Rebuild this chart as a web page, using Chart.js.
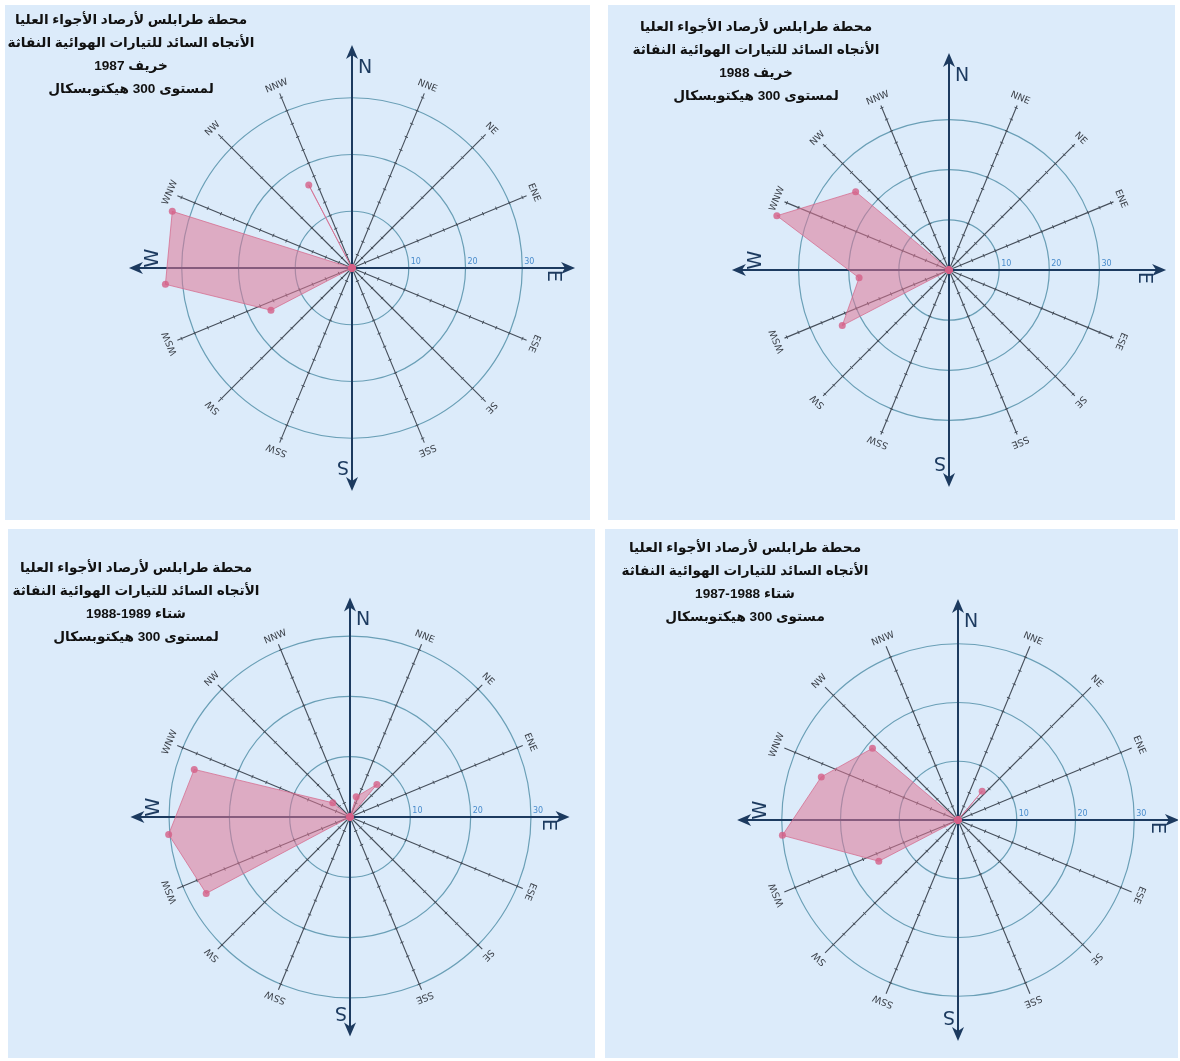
<!DOCTYPE html>
<html>
<head>
<meta charset="utf-8">
<script src="https://cdn.jsdelivr.net/npm/chart.js@4.4.1/dist/chart.umd.min.js"></script>
<style>
  html, body { margin: 0; padding: 0; }
  body { width: 1180px; height: 1061px; background: #ffffff; position: relative; overflow: hidden; }
  .panel { position: absolute; background: #dcebfa; }
  .panel canvas { position: absolute; left: 0; top: 0; }
  .title {
    position: absolute; direction: rtl; text-align: center; white-space: nowrap;
    font-family: "Liberation Sans", "DejaVu Sans", sans-serif; font-weight: bold;
    font-size: 13.6px; line-height: 23px; color: #111;
    transform: translateX(-50%);
  }
</style>
</head>
<body>
<script>
// Wind directions, clockwise from north
const directions = ['N', 'NNE', 'NE', 'ENE', 'E', 'ESE', 'SE', 'SSE',
                    'S', 'SSW', 'SW', 'WSW', 'W', 'WNW', 'NW', 'NNW'];

// Rings drawn and labelled on the radial axis
const ringValues = [10, 20, 30];

// Frequency of the prevailing jet-stream direction at 300 hPa, per season
const autumn1987     = [0, 0, 0, 0, 0, 0, 0, 0, 0, 0, 0, 16.1, 33, 33.2, 0, 16.5];
const autumn1988     = [0, 0, 0, 0, 0, 0, 0, 0, 0, 0, 0, 24, 18, 36, 24.3, 0];
const winter1988_89  = [0, 3.5, 7, 0, 0, 0, 0, 0, 0, 0, 0, 27, 30.2, 27, 3.7, 0];
const winter1987_88  = [0, 0, 6.4, 0, 0, 0, 0, 0, 0, 0, 0, 15.2, 30, 24.4, 19, 0];

// Panel headings
const titleAutumn1987 = ['محطة طرابلس لأرصاد الأجواء العليا', 'الأتجاه السائد للتيارات الهوائية النفاثة', 'خريف 1987', 'لمستوى 300 هيكتوبسكال'];
const titleAutumn1988 = ['محطة طرابلس لأرصاد الأجواء العليا', 'الأتجاه السائد للتيارات الهوائية النفاثة', 'خريف 1988', 'لمستوى 300 هيكتوبسكال'];
const titleWinter1988_89 = ['محطة طرابلس لأرصاد الأجواء العليا', 'الأتجاه السائد للتيارات الهوائية النفاثة', 'شتاء 1989-1988', 'لمستوى 300 هيكتوبسكال'];
const titleWinter1987_88 = ['محطة طرابلس لأرصاد الأجواء العليا', 'الأتجاه السائد للتيارات الهوائية النفاثة', 'شتاء 1988-1987', 'مستوى 300 هيكتوبسكال'];

// Layout of the four panels (page pixels): box, rose centre inside the box,
// pixels per unit, spoke reach and arrow reach in axis units, polygon turn in degrees
const panels = [
  { box: [5, 5, 585, 515],     centre: [347, 263], unit: 5.7,  reach: 33.3, arrow: 39.3, turn: -5,   data: autumn1987,    title: titleAutumn1987,    titlePos: [131, 8] },
  { box: [608, 5, 567, 515],   centre: [341, 265], unit: 5.03, reach: 35.5, arrow: 43.3, turn: -5,   data: autumn1988,    title: titleAutumn1988,    titlePos: [756, 15] },
  { box: [8, 529, 587, 529],   centre: [342, 288], unit: 6.05, reach: 31,   arrow: 36.4, turn: -5.5, data: winter1988_89, title: titleWinter1988_89, titlePos: [136, 556] },
  { box: [605, 529, 573, 529], centre: [353, 291], unit: 5.9,  reach: 32,   arrow: 37.6, turn: -5,   data: winter1987_88, title: titleWinter1987_88, titlePos: [745, 536] }
];

const colours = {
  ring: '#6a9fb6',
  spoke: '#454e5a',
  arrow: '#1c3a5f',
  ringText: '#4a8ccc',
  spokeText: '#3a3f47',
  fill: 'rgba(222, 118, 150, 0.55)',
  line: 'rgba(212, 105, 140, 0.75)',
  point: 'rgba(212, 95, 135, 0.8)'
};

// Compass rose drawn at true bearings around the scale centre:
// ticked spokes, their labels, N/E/S/W arrows and ring values
const compassRose = {
  id: 'compassRose',
  beforeDatasetsDraw(chart, args, opts) {
    const s = chart.scales.r;
    const ctx = chart.ctx;
    const cx = s.xCenter, cy = s.yCenter;
    const n = chart.data.labels.length;
    const bearing = i => (i / n) * Math.PI * 2;
    const at = (i, d) => {
      const a = bearing(i) - Math.PI / 2;
      return { x: cx + Math.cos(a) * d, y: cy + Math.sin(a) * d, a };
    };
    const spokeEnd = s.getDistanceFromCenterForValue(opts.spokeValue);

    ctx.save();
    // intermediate spokes with small ticks
    ctx.strokeStyle = colours.spoke;
    for (let i = 0; i < n; i++) {
      if (i % 4 === 0) continue;
      const end = at(i, spokeEnd);
      ctx.lineWidth = 1.1;
      ctx.beginPath();
      ctx.moveTo(cx, cy);
      ctx.lineTo(end.x, end.y);
      ctx.stroke();
      const nx = -Math.sin(end.a) * 1.8, ny = Math.cos(end.a) * 1.8;
      ctx.lineWidth = 1;
      for (let v = opts.tickStep; v < opts.spokeValue; v += opts.tickStep) {
        const p = at(i, s.getDistanceFromCenterForValue(v));
        ctx.beginPath();
        ctx.moveTo(p.x - nx, p.y - ny);
        ctx.lineTo(p.x + nx, p.y + ny);
        ctx.stroke();
      }
    }

    // intermediate direction labels, turned with their spoke
    ctx.fillStyle = colours.spokeText;
    ctx.font = '9.5px "DejaVu Sans", sans-serif';
    ctx.textAlign = 'center';
    ctx.textBaseline = 'middle';
    for (let i = 0; i < n; i++) {
      if (i % 4 === 0) continue;
      const p = at(i, spokeEnd + 8);
      ctx.save();
      ctx.translate(p.x, p.y);
      ctx.rotate(bearing(i));
      ctx.fillText(chart.data.labels[i], 0, 0);
      ctx.restore();
    }

    // cardinal arrows
    const tip = s.getDistanceFromCenterForValue(opts.arrowValue);
    ctx.strokeStyle = colours.arrow;
    ctx.fillStyle = colours.arrow;
    ctx.lineWidth = 2;
    for (let i = 0; i < n; i += 4) {
      const p = at(i, tip);
      ctx.beginPath();
      ctx.moveTo(cx, cy);
      ctx.lineTo(p.x - Math.cos(p.a) * 6, p.y - Math.sin(p.a) * 6);
      ctx.stroke();
      ctx.save();
      ctx.translate(p.x, p.y);
      ctx.rotate(p.a);
      ctx.beginPath();
      ctx.moveTo(0, 0);
      ctx.lineTo(-14, -6);
      ctx.lineTo(-10, 0);
      ctx.lineTo(-14, 6);
      ctx.closePath();
      ctx.fill();
      ctx.restore();
    }

    // cardinal letters
    ctx.font = '19px "DejaVu Sans", sans-serif';
    const letterSpots = [
      [13, -(tip - 23)],
      [tip - 22, 8],
      [-9, tip - 25],
      [-(tip - 24), -10]
    ];
    for (let k = 0; k < 4; k++) {
      const i = k * 4;
      ctx.save();
      ctx.translate(cx + letterSpots[k][0], cy + letterSpots[k][1]);
      ctx.rotate(bearing(i));
      ctx.fillText(chart.data.labels[i], 0, 0);
      ctx.restore();
    }

    // ring values along the east axis
    ctx.fillStyle = colours.ringText;
    ctx.font = '8px "DejaVu Sans", sans-serif';
    ctx.textAlign = 'left';
    ctx.textBaseline = 'alphabetic';
    ringValues.forEach(v => {
      ctx.fillText(String(v), cx + s.getDistanceFromCenterForValue(v) + 2, cy - 4);
    });
    ctx.restore();
  }
};

panels.forEach(cfg => {
  const [bx, by, bw, bh] = cfg.box;
  const div = document.createElement('div');
  div.className = 'panel';
  div.style.left = bx + 'px';
  div.style.top = by + 'px';
  div.style.width = bw + 'px';
  div.style.height = bh + 'px';
  document.body.appendChild(div);

  const canvas = document.createElement('canvas');
  canvas.width = bw;
  canvas.height = bh;
  canvas.style.width = bw + 'px';
  canvas.style.height = bh + 'px';
  div.appendChild(canvas);

  const head = document.createElement('div');
  head.className = 'title';
  head.style.left = cfg.titlePos[0] + 'px';
  head.style.top = cfg.titlePos[1] + 'px';
  head.innerHTML = cfg.title.map(t => '<div>' + t + '</div>').join('');
  document.body.appendChild(head);

  const R = cfg.reach * cfg.unit;
  const [cx, cy] = cfg.centre;

  new Chart(canvas, {
    type: 'radar',
    data: {
      labels: directions,
      datasets: [{
        data: cfg.data,
        fill: true,
        backgroundColor: colours.fill,
        borderColor: colours.line,
        borderWidth: 1,
        pointRadius: 3.5,
        pointBackgroundColor: colours.point,
        pointBorderWidth: 0,
        tension: 0,
        clip: false
      }]
    },
    options: {
      responsive: false,
      animation: false,
      devicePixelRatio: 1,
      events: [],
      layout: {
        padding: { left: cx - R, right: bw - cx - R, top: cy - R, bottom: bh - cy - R }
      },
      plugins: {
        legend: { display: false },
        tooltip: { enabled: false },
        compassRose: { tickStep: 2.5, spokeValue: cfg.reach, arrowValue: cfg.arrow }
      },
      scales: {
        r: {
          min: 0,
          max: cfg.reach,
          startAngle: cfg.turn,
          afterBuildTicks: scale => { scale.ticks = [0].concat(ringValues).map(value => ({ value })); },
          ticks: { display: false },
          pointLabels: { display: false },
          grid: { circular: true, color: colours.ring, lineWidth: 1.2 },
          angleLines: { display: false }
        }
      }
    },
    plugins: [compassRose]
  });
});
</script>
</body>
</html>
